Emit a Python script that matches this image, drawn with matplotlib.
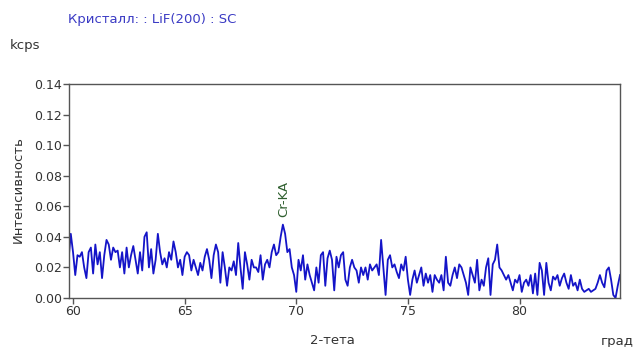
import numpy as np
import matplotlib
matplotlib.use("Agg")
import matplotlib.pyplot as plt

# 2-тета от 59.8 до 84.5 град, шаг 0.1
tt_start = 59.8
tt_step = 0.1

# интенсивность, kcps
intens = [
    0.025, 0.042,
    0.030, 0.015, 0.028, 0.027, 0.030, 0.020, 0.013, 0.030, 0.033, 0.016,  # 60
    0.035, 0.022, 0.030, 0.013, 0.028, 0.038, 0.035, 0.025, 0.033, 0.030,  # 61
    0.031, 0.020, 0.030, 0.016, 0.033, 0.020, 0.028, 0.034, 0.025, 0.016,  # 62
    0.030, 0.018, 0.040, 0.043, 0.020, 0.032, 0.016, 0.025, 0.042, 0.030,  # 63
    0.022, 0.026, 0.020, 0.030, 0.025, 0.037, 0.030, 0.020, 0.025, 0.015,  # 64
    0.027, 0.030, 0.028, 0.018, 0.025, 0.020, 0.015, 0.023, 0.018, 0.027,  # 65
    0.032, 0.025, 0.013, 0.028, 0.035, 0.030, 0.010, 0.030, 0.020, 0.008,  # 66
    0.020, 0.018, 0.024, 0.015, 0.036, 0.020, 0.006, 0.030, 0.022, 0.012,  # 67
    0.025, 0.020, 0.020, 0.017, 0.028, 0.012, 0.022, 0.025, 0.020, 0.030,  # 68
    0.035, 0.028, 0.030, 0.040, 0.048, 0.042, 0.030, 0.032, 0.020, 0.015,  # 69
    0.004, 0.025, 0.018, 0.028, 0.012, 0.022, 0.015, 0.010, 0.005, 0.020,  # 70
    0.010, 0.028, 0.030, 0.008, 0.026, 0.031, 0.025, 0.005, 0.027, 0.020,  # 71
    0.028, 0.030, 0.012, 0.008, 0.020, 0.025, 0.020, 0.018, 0.010, 0.020,  # 72
    0.015, 0.020, 0.012, 0.022, 0.018, 0.020, 0.022, 0.015, 0.038, 0.020,  # 73
    0.002, 0.025, 0.028, 0.020, 0.022, 0.017, 0.013, 0.022, 0.018, 0.027,  # 74
    0.012, 0.002, 0.012, 0.018, 0.010, 0.015, 0.020, 0.008, 0.016, 0.010,  # 75
    0.015, 0.004, 0.015, 0.012, 0.010, 0.015, 0.005, 0.027, 0.010, 0.008,  # 76
    0.015, 0.020, 0.013, 0.022, 0.020, 0.015, 0.010, 0.002, 0.020, 0.015,  # 77
    0.010, 0.025, 0.005, 0.012, 0.008, 0.020, 0.026, 0.002, 0.022, 0.025,  # 78
    0.035, 0.020, 0.018, 0.015, 0.012, 0.015, 0.010, 0.005, 0.012, 0.010,  # 79
    0.015, 0.004, 0.010, 0.012, 0.008, 0.015, 0.003, 0.016, 0.002, 0.023,  # 80
    0.018, 0.002, 0.023, 0.010, 0.005, 0.014, 0.012, 0.015, 0.008, 0.013,  # 81
    0.016, 0.010, 0.006, 0.015, 0.008, 0.010, 0.005, 0.012, 0.006, 0.004,  # 82
    0.005, 0.006, 0.004, 0.005, 0.006, 0.010, 0.015, 0.010, 0.007, 0.018,  # 83
    0.020, 0.012, 0.002, 0.000, 0.008, 0.015,                              # 84
]
tt = tt_start + tt_step*np.arange(len(intens))

x_ticks = [60, 65, 70, 75, 80]
y_ticks = [0.00, 0.02, 0.04, 0.06, 0.08, 0.10, 0.12, 0.14]

peak_name = "Cr-KA"
peak_pos = 69.45

fig = plt.figure(figsize=(6.37, 3.47), dpi=100)
ax = fig.add_axes([69/637, 49/347, 551/637, 214/347])

ax.plot(tt, intens, color="#1414c8", lw=1.3)

ax.set_xlim(59.82, 84.5)
ax.set_ylim(0, 0.14)
ax.set_xticks(x_ticks)
ax.set_yticks(y_ticks)
ax.set_yticklabels(["%.2f" % v for v in y_ticks])

for s in ax.spines.values():
    s.set_color("#555555")
    s.set_linewidth(1.0)
ax.tick_params(direction="out", length=4, width=1, color="#555555",
               labelsize=9, labelcolor="#333333", pad=1)

ax.text(peak_pos, 0.053, peak_name, rotation=90, ha="center", va="bottom",
        color="#2f5f2f", fontsize=9.5)

fig.text(68/637, 1-20/347, "Кристалл: : LiF(200) : SC", color="#3b3bc4",
         fontsize=9.5, ha="left", va="center")
fig.text(10/637, 1-45/347, "kcps", color="#333333", fontsize=9.5,
         ha="left", va="center")
fig.text(18/637, 1-190/347, "Интенсивность", rotation=90, color="#333333",
         fontsize=9.5, ha="center", va="center")
fig.text(332/637, 1-341/347, "2-тета", color="#333333", fontsize=9.5,
         ha="center", va="center")
fig.text(634/637, 1-341/347, "град", color="#333333", fontsize=9.5,
         ha="right", va="center")

fig.savefig("out.png", dpi=100)
